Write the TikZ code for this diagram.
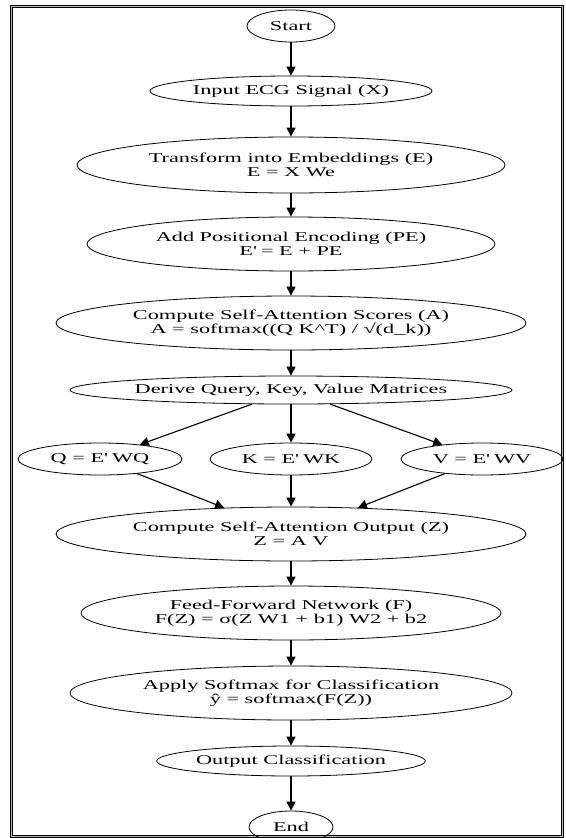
\documentclass[tikz,border=0pt]{standalone}
\usepackage{fontspec}
\setmainfont{Liberation Serif}[FakeStretch=1.65]
\usetikzlibrary{shapes.geometric}
\usetikzlibrary{arrows.meta}
\tikzset{>={Triangle[length=9pt,width=9pt]},
stage/.style={ % Sets the look of each step of the flow
ellipse,
draw,
line width=0.8pt,
inner sep=0pt,
align=center,
font=\fontsize{13.5}{14.5}\selectfont},
frame/.style={ % Double rule round the whole chart
draw,
line width=1pt,
double=gray!55,
double distance=0.8pt},
every edge/.style={ % Sets the look of each arrow
draw,
->,
line width=1.1pt}}

\begin{document}
\begin{tikzpicture}[x=1pt,y=-1pt]
\useasboundingbox (0,0) rectangle (565,838);
\draw[frame] (11.5,6.5) rectangle (562.5,836.5);
\node[stage, minimum width=88pt, minimum height=32pt] (start) at (291,26) {Start};
\node[stage, minimum width=282pt, minimum height=30pt] (input) at (291,91) {Input ECG Signal (X)};
\node[stage, minimum width=428pt, minimum height=56pt] (embed) at (291,165) {Transform into Embeddings (E)\\E = X We};
\node[stage, minimum width=408pt, minimum height=54pt] (posenc) at (291,244) {Add Positional Encoding (PE)\\E\textquotesingle{} = E + PE};
\node[stage, minimum width=470pt, minimum height=54pt] (scores) at (291,323) {Compute Self-Attention Scores (A)\\A = softmax((Q K\textasciicircum T) / √(d\_k))};
\node[stage, minimum width=428pt, minimum height=28pt] (derive) at (291,390) {Derive Query, Key, Value Matrices};
\node[stage, minimum width=164pt, minimum height=32pt] (q) at (100,459) {Q = E\textquotesingle{} WQ};
\node[stage, minimum width=162pt, minimum height=32pt] (k) at (291,459) {K = E\textquotesingle{} WK};
\node[stage, minimum width=162pt, minimum height=32pt] (v) at (482,459) {V = E\textquotesingle{} WV};
\node[stage, minimum width=470pt, minimum height=54pt] (attout) at (291,534) {Compute Self-Attention Output (Z)\\Z = A V};
\node[stage, minimum width=420pt, minimum height=54pt] (ffn) at (291,613) {Feed-Forward Network (F)\\F(Z) = σ(Z W1 + b1) W2 + b2};
\node[stage, minimum width=442pt, minimum height=54pt] (softmax) at (291,693) {Apply Softmax for Classification\\ŷ = softmax(F(Z))};
\node[stage, minimum width=268pt, minimum height=30pt] (outcls) at (291,761) {Output Classification};
\node[stage, minimum width=84pt, minimum height=32pt] (end) at (291,827) {End};
\draw (start) edge (input);
\draw (input) edge (embed);
\draw (embed) edge (posenc);
\draw (posenc) edge (scores);
\draw (scores) edge (derive);
\draw (derive) edge (q);
\draw (derive) edge (k);
\draw (derive) edge (v);
\draw (q) edge (attout);
\draw (k) edge (attout);
\draw (v) edge (attout);
\draw (attout) edge (ffn);
\draw (ffn) edge (softmax);
\draw (softmax) edge (outcls);
\draw (outcls) edge (end);
\end{tikzpicture}
\end{document}
